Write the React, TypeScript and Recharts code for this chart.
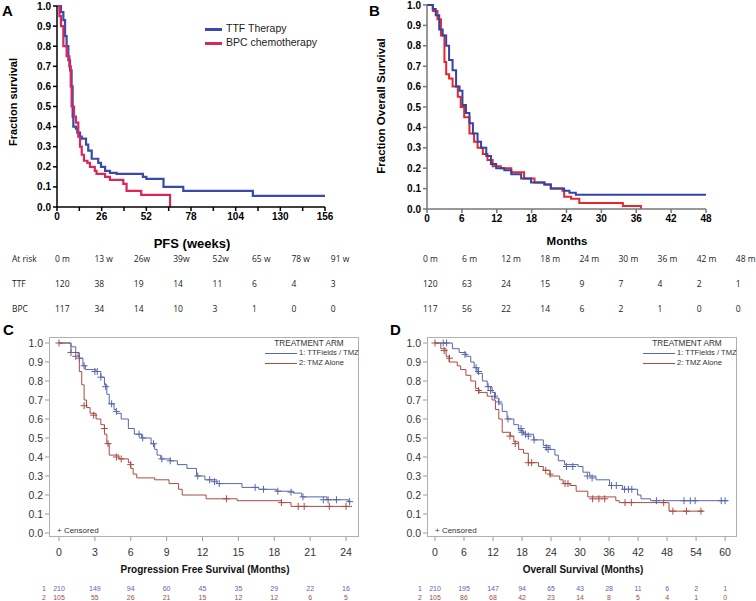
import React from "react";
import { ComposedChart, Line, Scatter, XAxis, YAxis } from "recharts";

type Pt = [number, number];

// ---- panel A: PFS (weeks), TTF therapy vs BPC chemotherapy
const ttfPfsWeeks: Pt[] = [
  [0, 1], [2.3, 0.97], [3.7, 0.93], [4.7, 0.85], [5.6, 0.8], [6.6, 0.73], [7.6, 0.68],
  [8.5, 0.6], [9.1, 0.45], [9.5, 0.4], [11, 0.39], [11.8, 0.37], [13.4, 0.35], [14.4, 0.34],
  [16.9, 0.31], [18.2, 0.28], [20.2, 0.24], [24, 0.22], [25.6, 0.2], [28, 0.18], [30.8, 0.17],
  [34.7, 0.165], [50, 0.15], [52, 0.14], [62, 0.1], [73.5, 0.08], [114, 0.055], [156, 0.055],
];
const bpcPfsWeeks: Pt[] = [
  [0, 1], [1.4, 0.95], [2.3, 0.9], [3.7, 0.8], [5.6, 0.75], [7.2, 0.7], [8, 0.6], [8.5, 0.5],
  [9.9, 0.45], [11, 0.42], [12.4, 0.35], [13.4, 0.3], [14.4, 0.26], [15.7, 0.23], [17.7, 0.22],
  [19.2, 0.2], [22, 0.18], [23, 0.165], [28, 0.15], [30.8, 0.135], [38.6, 0.115], [40.5, 0.08],
  [49, 0.06], [65.8, 0],
];
const weekTicks = [0, 13, 26, 39, 52, 65, 78, 91, 104, 117, 130, 143, 156];
const fractionTicks = [0, 0.1, 0.2, 0.3, 0.4, 0.5, 0.6, 0.7, 0.8, 0.9, 1];

const riskHeadA = ["At risk", "0 m", "13 w", "26w", "39w", "52w", "65 w", "78 w", "91 w"];
const riskTtfA = ["TTF", "120", "38", "19", "14", "11", "6", "4", "3"];
const riskBpcA = ["BPC", "117", "34", "14", "10", "3", "1", "0", "0"];

// ---- panel B: overall survival (months)
const ttfOs: Pt[] = [
  [0, 1], [0.7, 1], [1, 0.98], [1.5, 0.95], [2.1, 0.88], [2.7, 0.85], [3.3, 0.8], [3.8, 0.73],
  [4.4, 0.68], [5, 0.6], [5.6, 0.58], [6.1, 0.51], [6.7, 0.47], [7.3, 0.42], [7.9, 0.37],
  [8.7, 0.33], [9.3, 0.3], [10.2, 0.26], [11, 0.22], [11.9, 0.2], [13.3, 0.19], [14.5, 0.17],
  [16.2, 0.15], [17.9, 0.13], [20.2, 0.12], [21.3, 0.1], [23.6, 0.09], [24.5, 0.08],
  [25.6, 0.07], [48, 0.07],
];
const bpcOs: Pt[] = [
  [0, 1], [1, 0.97], [1.8, 0.93], [2.4, 0.85], [3, 0.72], [3.3, 0.66], [3.8, 0.64], [4.4, 0.6],
  [5.3, 0.55], [5.8, 0.5], [6.4, 0.45], [7.3, 0.37], [8.1, 0.33], [8.7, 0.3], [9.6, 0.27],
  [10.4, 0.24], [11.3, 0.21], [12.7, 0.2], [14.5, 0.18], [16.7, 0.15], [18.5, 0.13],
  [20.2, 0.12], [21.3, 0.1], [23.3, 0.09], [23.6, 0.06], [24.8, 0.05], [26.2, 0.03],
  [33.7, 0.015], [36.8, 0],
];
const monthTicksB = [0, 6, 12, 18, 24, 30, 36, 42, 48];
const riskHeadB = ["0 m", "6 m", "12 m", "18 m", "24 m", "30 m", "36 m", "42 m", "48 m"];
const riskTtfB = ["120", "63", "24", "15", "9", "7", "4", "2", "1"];
const riskBpcB = ["117", "56", "22", "14", "6", "2", "1", "0", "0"];

// ---- panel C: PFS (months), TTFields/TMZ vs TMZ alone
const ttfieldsPfs: Pt[] = [
  [0, 1], [0.7, 1], [1, 0.98], [1.4, 0.95], [1.7, 0.92], [2, 0.88], [2.2, 0.86], [3.1, 0.85],
  [3.5, 0.82], [3.8, 0.78], [4, 0.73], [4.2, 0.68], [4.6, 0.65], [4.8, 0.63], [5.2, 0.6],
  [5.8, 0.55], [6.3, 0.52], [6.9, 0.5], [7.7, 0.47], [8, 0.44], [8.2, 0.41], [8.5, 0.39],
  [9.3, 0.38], [9.9, 0.36], [10.7, 0.34], [11.5, 0.3], [12.2, 0.28], [13.2, 0.26], [15.3, 0.24],
  [16.7, 0.23], [18.2, 0.22], [19.6, 0.21], [20.3, 0.19], [22.4, 0.175], [24.2, 0.165], [24.4, 0.165],
];
const tmzPfs: Pt[] = [
  [0, 1], [1, 0.95], [1.6, 0.93], [1.7, 0.85], [1.9, 0.78], [2.1, 0.7], [2.3, 0.66], [2.6, 0.63],
  [3.1, 0.6], [3.5, 0.57], [3.8, 0.52], [4, 0.47], [4.2, 0.41], [5, 0.39], [5.8, 0.37],
  [6, 0.34], [6.2, 0.31], [6.5, 0.29], [8, 0.28], [9.2, 0.26], [10, 0.23], [10.3, 0.2],
  [12.3, 0.18], [14.9, 0.17], [18.6, 0.16], [19.4, 0.14], [24.5, 0.14],
];
const ttfieldsPfsCens: Pt[] = [
  [1, 0.95], [1.7, 0.92], [2.1, 0.88], [3, 0.85], [3.2, 0.85], [3.5, 0.82], [3.9, 0.77],
  [4.4, 0.68], [4.8, 0.64], [6.7, 0.52], [7, 0.5], [7.9, 0.47], [8.6, 0.39], [9.3, 0.38],
  [11.6, 0.3], [12.6, 0.28], [13, 0.27], [13.4, 0.26], [16.4, 0.24], [17.1, 0.23], [18.3, 0.22],
  [19.4, 0.215], [20.4, 0.19], [22.1, 0.175], [22.5, 0.175], [23.2, 0.175], [24.3, 0.165],
];
const tmzPfsCens: Pt[] = [
  [0, 1], [1.4, 0.93], [2.1, 0.67], [2.9, 0.62], [3.8, 0.55], [4.1, 0.47], [4.8, 0.4],
  [5.2, 0.39], [6, 0.36], [14, 0.18], [18.6, 0.16], [20, 0.14], [20.5, 0.14], [22.6, 0.14], [24, 0.14],
];
const monthTicksC = [0, 3, 6, 9, 12, 15, 18, 21, 24];
const riskC1 = [210, 149, 94, 60, 45, 35, 29, 22, 16];
const riskC2 = [105, 55, 26, 21, 15, 12, 12, 6, 5];

// ---- panel D: overall survival (months)
const ttfieldsOs: Pt[] = [
  [0, 1], [2.9, 1], [3.6, 0.97], [5, 0.95], [6.4, 0.93], [7.4, 0.9], [8.1, 0.87], [8.7, 0.84],
  [9.8, 0.8], [10.8, 0.77], [11.8, 0.74], [12.5, 0.71], [13.2, 0.68], [13.9, 0.64], [14.9, 0.6],
  [16.3, 0.57], [17.3, 0.54], [18.3, 0.52], [20.4, 0.49], [22.4, 0.46], [23.8, 0.44], [24.8, 0.41],
  [25.5, 0.38], [26.8, 0.36], [29.6, 0.35], [30.6, 0.32], [32, 0.3], [33.3, 0.28], [36.1, 0.25],
  [38.8, 0.23], [41.9, 0.2], [42.6, 0.18], [44.6, 0.17], [60.6, 0.17],
];
const tmzOs: Pt[] = [
  [0, 1], [1.2, 0.97], [2.3, 0.93], [2.9, 0.9], [4.6, 0.88], [5.3, 0.86], [6.4, 0.83], [7.4, 0.8],
  [8.4, 0.76], [9.1, 0.74], [10.8, 0.72], [11.8, 0.7], [12.5, 0.65], [13.2, 0.6], [13.9, 0.53],
  [15.6, 0.51], [16.3, 0.48], [17.3, 0.44], [18.3, 0.42], [19.3, 0.37], [21.4, 0.35], [22.4, 0.33],
  [23.8, 0.3], [25.8, 0.28], [26.5, 0.26], [27.9, 0.25], [29.2, 0.22], [31.6, 0.19], [37.4, 0.17],
  [38.1, 0.16], [48, 0.16], [48.4, 0.115], [55.5, 0.115],
];
const ttfieldsOsCens: Pt[] = [
  [1.7, 1], [2.4, 1], [6.2, 0.94], [8.5, 0.87], [9, 0.85], [11, 0.77], [11.5, 0.75], [12.3, 0.72],
  [13.2, 0.69], [15.1, 0.6], [17.8, 0.55], [18, 0.53], [18.7, 0.52], [19.3, 0.51], [20.5, 0.49],
  [23, 0.45], [23.4, 0.44], [27.2, 0.35], [28.5, 0.35], [31.5, 0.3], [32.5, 0.29], [36.5, 0.25],
  [37.5, 0.25], [39.2, 0.23], [40, 0.23], [40.7, 0.23], [45.8, 0.17], [51.5, 0.17], [52.8, 0.17],
  [53.8, 0.17], [59.2, 0.17], [60, 0.17],
];
const tmzOsCens: Pt[] = [
  [0, 1], [1.9, 0.96], [3, 0.92], [9, 0.75], [15.5, 0.51], [16.6, 0.47], [19.3, 0.37], [20, 0.37],
  [22.9, 0.33], [23.8, 0.31], [26.9, 0.26], [27.5, 0.26], [32.6, 0.18], [33.9, 0.18], [35.1, 0.18],
  [39.3, 0.16], [40.6, 0.16], [47.3, 0.16], [49.2, 0.115], [52, 0.115], [55, 0.115],
];
const monthTicksD = [0, 6, 12, 18, 24, 30, 36, 42, 48, 54, 60];
const riskD1 = [210, 195, 147, 94, 65, 43, 28, 11, 6, 2, 1];
const riskD2 = [105, 86, 68, 42, 23, 14, 8, 5, 4, 1, 0];

const BLUE_A = "#3a4aaa";
const RED_A = "#d6285c";
const BLUE_B = "#3344a6";
const RED_B = "#e8262b";
const BLUE_C = "#5867ab";
const RED_C = "#a84c40";

const rows = (pts: Pt[]) => pts.map(([x, y]) => ({ x, y }));
const fmt1 = (v: number) => v.toFixed(1);

const plus = (color: string) => (p: any) =>
  <path d={`M${p.cx - 3.5},${p.cy}h7M${p.cx},${p.cy - 3.5}v7`} stroke={color} strokeWidth={1} fill="none" />;

const abs = (left: number, top: number, extra: React.CSSProperties = {}): React.CSSProperties => ({
  position: "absolute", left, top, ...extra,
});

const letterStyle: React.CSSProperties = { fontWeight: "bold", fontSize: 15, lineHeight: "15px" };

function VLabel({ cx, cy, text, size }: { cx: number; cy: number; text: string; size: number }) {
  return (
    <div style={abs(cx - 100, cy - 8, {
      width: 200, height: 16, lineHeight: "16px", textAlign: "center", transform: "rotate(-90deg)",
      fontWeight: "bold", fontSize: size, whiteSpace: "nowrap",
    })}>{text}</div>
  );
}

function RiskRow({ top, x0, step, cells, first }: { top: number; x0: number; step: number; cells: string[]; first?: number }) {
  return (
    <>
      {cells.map((c, i) => (
        <div key={i} style={abs(first !== undefined && i === 0 ? first : x0 + (i - (first !== undefined ? 1 : 0)) * step, top - 7, {
          fontFamily: "'Open Sans', sans-serif", fontSize: 8.5, lineHeight: "14px", color: "#222", whiteSpace: "nowrap",
        })}>{c}</div>
      ))}
    </>
  );
}

function SasPanel(props: {
  left: number; c1: Pt[]; c2: Pt[]; s1: Pt[]; s2: Pt[]; ticks: number[]; max: number;
  padL: number; padR: number; r1: number[]; r2: number[]; title: string; letter: string; letterX: number;
}) {
  const { left, c1, c2, s1, s2, ticks, max, padL, padR, r1, r2, title, letter, letterX } = props;
  const tick = (p: any) => {
    const i = ticks.indexOf(p.payload.value);
    return (
      <g>
        <text x={p.x} y={p.y + 13} textAnchor="middle" fontSize={10.5} fill="#333">{p.payload.value}</text>
        <text x={p.x} y={p.y + 48} textAnchor="middle" fontSize={7} fill={BLUE_C}>{r1[i]}</text>
        <text x={p.x} y={p.y + 57} textAnchor="middle" fontSize={7} fill={RED_C}>{r2[i]}</text>
        {i === 0 && <text x={p.x - 15} y={p.y + 48} textAnchor="middle" fontSize={7} fill={BLUE_C}>1</text>}
        {i === 0 && <text x={p.x - 15} y={p.y + 57} textAnchor="middle" fontSize={7} fill={RED_C}>2</text>}
      </g>
    );
  };
  const small: React.CSSProperties = { fontSize: 7.6, lineHeight: "10px", color: "#333", whiteSpace: "nowrap" };
  return (
    <div style={abs(left, 315, { width: 378, height: 286 })}>
      <div style={abs(letterX, 7, letterStyle)}>{letter}</div>
      <ComposedChart width={378} height={286} margin={{ top: 22, right: 19, bottom: 0, left: 19 }}>
        <XAxis type="number" dataKey="x" domain={[0, max]} ticks={ticks} axisLine={false} tickSize={4}
          tickLine={{ stroke: "#999" }} tick={tick} height={64} padding={{ left: padL, right: padR }} />
        <YAxis type="number" dataKey="y" domain={[0, 1]} ticks={fractionTicks} tickFormatter={fmt1} axisLine={false}
          tickSize={4} tickLine={{ stroke: "#999" }} tick={{ fontSize: 10.5, fill: "#333" }} width={30}
          padding={{ top: 6, bottom: 4 }} />
        <Line data={rows(c2)} dataKey="y" type="stepAfter" stroke={RED_C} strokeWidth={1} dot={false} isAnimationActive={false} />
        <Line data={rows(c1)} dataKey="y" type="stepAfter" stroke={BLUE_C} strokeWidth={1} dot={false} isAnimationActive={false} />
        <Scatter data={rows(s2)} dataKey="y" shape={plus(RED_C)} isAnimationActive={false} />
        <Scatter data={rows(s1)} dataKey="y" shape={plus(BLUE_C)} isAnimationActive={false} />
      </ComposedChart>
      <div style={abs(49, 22, { width: 310, height: 200, border: "1px solid #b0b0b0", boxSizing: "border-box" })} />
      <div style={abs(259, 24, { ...small, width: 100, textAlign: "center", fontSize: 8.2 })}>TREATMENT ARM</div>
      <div style={abs(265, 38, { width: 32, height: 1, background: BLUE_C })} />
      <div style={abs(299, 33, small)}>1: TTFields / TMZ</div>
      <div style={abs(265, 48, { width: 32, height: 1, background: RED_C })} />
      <div style={abs(299, 43, small)}>2: TMZ Alone</div>
      <div style={abs(57, 211, { ...small, fontSize: 8 })}>+ Censored</div>
      <div style={abs(0, 249, { width: 410, textAlign: "center", fontWeight: "bold", fontSize: 10, color: "#111" })}>{title}</div>
    </div>
  );
}

export default function App() {
  return (
    <div style={{ position: "absolute", left: 0, top: 0, width: 756, height: 601, background: "#fff", fontFamily: "'Liberation Sans', Arial, sans-serif", overflow: "hidden" }}>
      {/* A */}
      <div style={abs(0, 0, { width: 378, height: 230 })}>
        <ComposedChart width={378} height={230} margin={{ top: 6, right: 53, bottom: 3, left: 27 }}>
          <XAxis type="number" dataKey="x" domain={[0, 156]} ticks={weekTicks}
            tickFormatter={(v: number) => (v % 26 === 0 ? String(v) : "")} stroke="#000" strokeWidth={1.5}
            tickSize={4} tick={{ fontSize: 10, fontWeight: "bold", fill: "#000" }} height={20} />
          <YAxis type="number" dataKey="y" domain={[0, 1]} ticks={fractionTicks} tickFormatter={fmt1} stroke="#000"
            strokeWidth={1.5} tickSize={4} tick={{ fontSize: 10, fontWeight: "bold", fill: "#000" }} width={30} />
          <Line data={rows(ttfPfsWeeks)} dataKey="y" type="stepAfter" stroke={BLUE_A} strokeWidth={2.2} dot={false} isAnimationActive={false} />
          <Line data={rows(bpcPfsWeeks)} dataKey="y" type="stepAfter" stroke={RED_A} strokeWidth={2.2} dot={false} isAnimationActive={false} />
        </ComposedChart>
      </div>
      <div style={abs(2, 3, letterStyle)}>A</div>
      <VLabel cx={13} cy={102} text="Fraction survival" size={11} />
      <div style={abs(205, 28, { width: 17, height: 3, background: BLUE_A })} />
      <div style={abs(226, 22, { fontSize: 10.5, color: "#222" })}>TTF Therapy</div>
      <div style={abs(205, 42, { width: 17, height: 3, background: RED_A })} />
      <div style={abs(226, 36, { fontSize: 10.5, color: "#222" })}>BPC chemotherapy</div>
      <div style={abs(92, 236, { width: 200, textAlign: "center", fontWeight: "bold", fontSize: 13 })}>PFS (weeks)</div>
      <RiskRow top={259} x0={55} step={39.4} first={12} cells={riskHeadA} />
      <RiskRow top={284} x0={55} step={39.4} first={12} cells={riskTtfA} />
      <RiskRow top={309} x0={55} step={39.4} first={12} cells={riskBpcA} />

      {/* B */}
      <div style={abs(378, 0, { width: 378, height: 230 })}>
        <ComposedChart width={378} height={230} margin={{ top: 5, right: 50, bottom: 3, left: 19 }}>
          <XAxis type="number" dataKey="x" domain={[0, 48]} ticks={monthTicksB} stroke="#777" strokeWidth={1.5}
            tickSize={4} tick={{ fontSize: 10, fontWeight: "bold", fill: "#000" }} height={18} />
          <YAxis type="number" dataKey="y" domain={[0, 1]} ticks={fractionTicks} tickFormatter={fmt1} stroke="#777"
            strokeWidth={1.5} tickSize={4} tick={{ fontSize: 10, fontWeight: "bold", fill: "#000" }} width={30} />
          <Line data={rows(bpcOs)} dataKey="y" type="stepAfter" stroke={RED_B} strokeWidth={2} dot={false} isAnimationActive={false} />
          <Line data={rows(ttfOs)} dataKey="y" type="stepAfter" stroke={BLUE_B} strokeWidth={2} dot={false} isAnimationActive={false} />
        </ComposedChart>
      </div>
      <div style={abs(369, 3, letterStyle)}>B</div>
      <VLabel cx={381} cy={106} text="Fraction Overall Survival" size={11.5} />
      <div style={abs(467, 235, { width: 200, textAlign: "center", fontWeight: "bold", fontSize: 11.5 })}>Months</div>
      <RiskRow top={259} x0={423} step={39.1} cells={riskHeadB} />
      <RiskRow top={284} x0={423} step={39.1} cells={riskTtfB} />
      <RiskRow top={309} x0={423} step={39.1} cells={riskBpcB} />

      {/* C */}
      <SasPanel left={0} c1={ttfieldsPfs} c2={tmzPfs} s1={ttfieldsPfsCens} s2={tmzPfsCens} ticks={monthTicksC}
        max={24} padL={10} padR={7} r1={riskC1} r2={riskC2} title="Progression Free Survival (Months)" letter="C" letterX={3} />
      {/* D */}
      <SasPanel left={378} c1={ttfieldsOs} c2={tmzOs} s1={ttfieldsOsCens} s2={tmzOsCens} ticks={monthTicksD}
        max={60} padL={8} padR={9} r1={riskD1} r2={riskD2} title="Overall Survival (Months)" letter="D" letterX={12} />
    </div>
  );
}
